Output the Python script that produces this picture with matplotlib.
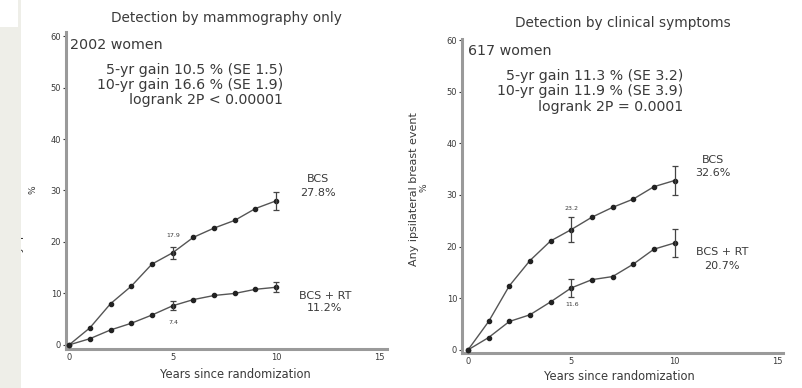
import matplotlib
matplotlib.use("Agg")
import matplotlib.pyplot as plt
from matplotlib.patches import Rectangle

plt.rcParams['font.family'] = ['DejaVu Sans']

years = [0, 1, 2, 3, 4, 5, 6, 7, 8, 9, 10]

# Left panel: detection by mammography only
mammo_bcs = [0, 3.3, 8.0, 11.4, 15.7, 17.9, 20.9, 22.7, 24.2, 26.5, 28.0]
mammo_rt = [0, 1.2, 2.9, 4.2, 5.8, 7.6, 8.8, 9.6, 10.0, 10.8, 11.2]
mammo_err_years = [5, 10]
mammo_bcs_err = [1.2, 1.7]
mammo_rt_err = [0.9, 1.0]

# Right panel: detection by clinical symptoms
clin_bcs = [0, 5.5, 12.4, 17.3, 21.1, 23.3, 25.7, 27.6, 29.2, 31.6, 32.8]
clin_rt = [0, 2.4, 5.5, 6.8, 9.3, 12.0, 13.6, 14.2, 16.6, 19.5, 20.7]
clin_err_years = [5, 10]
clin_bcs_err = [2.5, 2.9]
clin_rt_err = [1.8, 2.8]

xticks = [0, 5, 10, 15]
yticks = [0, 10, 20, 30, 40, 50, 60]

W, H = 803, 388
fig = plt.figure(figsize=(W / 100, H / 100), dpi=100)
fig.patch.set_facecolor('white')

TXT = '#3a3a3a'
AX = '#9a9a9a'


def fx(px):
    return px / W


def fy(py):
    return 1 - py / H


def make_ax(l, r, t, b, xlim, ylim):
    ax = fig.add_axes([fx(l), fy(b), fx(r - l), (b - t) / H])
    ax.set_xlim(*xlim)
    ax.set_ylim(*ylim)
    for s in ['top', 'right']:
        ax.spines[s].set_visible(False)
    for s in ['left', 'bottom']:
        ax.spines[s].set_color(AX)
        ax.spines[s].set_linewidth(2.2)
    ax.set_xticks(xticks)
    ax.set_yticks(yticks)
    ax.tick_params(axis='both', labelsize=6, colors=TXT, length=2, width=0.8,
                   pad=1.5)
    ax.tick_params(axis='x', length=0, pad=3)
    ax.patch.set_alpha(0)
    return ax


def draw_series(ax, y_bcs, y_rt, eyears, ebcs, ert):
    for ys in (y_bcs, y_rt):
        ax.plot(years, ys, color='#555555', lw=1.0, marker='o', ms=3.0,
                mfc='#222222', mec='#222222', zorder=3, clip_on=False)
    bvals = [y_bcs[years.index(e)] for e in eyears]
    rvals = [y_rt[years.index(e)] for e in eyears]
    ax.errorbar(eyears, bvals, yerr=ebcs, fmt='none', ecolor='#444444',
                elinewidth=0.9, capsize=2, capthick=0.9, zorder=3)
    ax.errorbar(eyears, rvals, yerr=ert, fmt='none', ecolor='#444444',
                elinewidth=0.9, capsize=2, capthick=0.9, zorder=3)


# Left axes
axL = make_ax(66, 387, 32, 349, (-0.15, 15.35), (-0.8, 60.8))
draw_series(axL, mammo_bcs, mammo_rt, mammo_err_years, mammo_bcs_err,
            mammo_rt_err)

# Right axes
axR = make_ax(462, 783, 39, 353, (-0.29, 15.25), (-0.6, 60.2))
draw_series(axR, clin_bcs, clin_rt, clin_err_years, clin_bcs_err,
            clin_rt_err)

def t(px, py, s, size, ha='center', va='center', **kw):
    fig.text(fx(px), fy(py), s, fontsize=size, ha=ha, va=va, color=TXT, **kw)

# Titles
t(226, 18, 'Detection by mammography only', 9.8)
t(623, 23, 'Detection by clinical symptoms', 9.8)

# Left panel annotations
t(70, 45, '2002 women', 10.3, ha='left')
t(283, 70, '5-yr gain 10.5 % (SE 1.5)', 10.2, ha='right')
t(283, 85, '10-yr gain 16.6 % (SE 1.9)', 10.2, ha='right')
t(283, 100, 'logrank 2P < 0.00001', 10.2, ha='right')
t(318, 179, 'BCS', 8)
t(318, 193, '27.8%', 8)
t(325, 296, 'BCS + RT', 8)
t(325, 308, '11.2%', 8)
t(173, 236, '17.9', 4.5)
t(173, 322, '7.4', 4.5)
t(235, 375, 'Years since randomization', 8.3)

# Right panel annotations
t(468, 51, '617 women', 10.3, ha='left')
t(683, 76, '5-yr gain 11.3 % (SE 3.2)', 10.2, ha='right')
t(683, 91, '10-yr gain 11.9 % (SE 3.9)', 10.2, ha='right')
t(683, 107, 'logrank 2P = 0.0001', 10.2, ha='right')
t(713, 160, 'BCS', 8)
t(713, 173, '32.6%', 8)
t(722, 252, 'BCS + RT', 8)
t(722, 266, '20.7%', 8)
t(572, 209, '23.2', 4.5)
t(572, 304, '11.6', 4.5)
t(619, 377, 'Years since randomization', 8.3)

# Y-axis labels
t(414, 189, 'Any ipsilateral breast event', 8, rotation=90)
t(424, 188, '%', 6.5, rotation=90)
t(19.5, 190, 'Any ipsilateral breast event', 8, rotation=90)
t(33, 190, '%', 6.5, rotation=90)

# Gray strip at left edge, with white box top-left
fig.patches.append(Rectangle((0, 0), fx(21), 1, transform=fig.transFigure,
                             facecolor='#eeeee8', edgecolor='none', zorder=10))
fig.patches.append(Rectangle((0, fy(27)), fx(18), 27 / H,
                             transform=fig.transFigure, facecolor='white',
                             edgecolor='none', zorder=11))

fig.savefig('out.png', dpi=100)
